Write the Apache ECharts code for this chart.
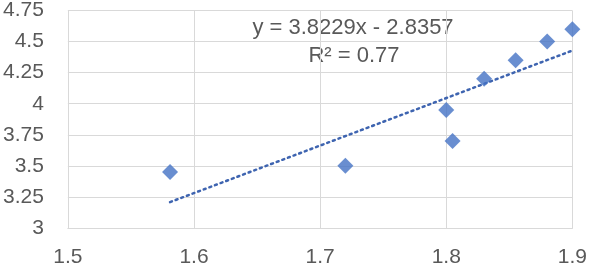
<!DOCTYPE html>
<html><head><meta charset="utf-8">
<script src="https://cdn.jsdelivr.net/npm/echarts@6/dist/echarts.min.js"></script>
<style>html,body{margin:0;padding:0;background:#fff}#c{width:590px;height:268px}</style>
</head><body><div id="c"></div>
<script>
const xValues = [1.581, 1.720, 1.800, 1.805, 1.830, 1.855, 1.880, 1.900];
const yValues = [3.45, 3.50, 3.95, 3.70, 4.20, 4.35, 4.50, 4.60];
const xTicks = [1.5, 1.6, 1.7, 1.8, 1.9];
const yTicks = [3, 3.25, 3.5, 3.75, 4, 4.25, 4.5, 4.75];
const trendSlope = 3.8229;
const trendIntercept = -2.8357;
const equationText = 'y = 3.8229x - 2.8357';
const r2Text = 'R² = 0.77';

const pts = xValues.map((x, i) => [x, yValues[i]]);
const xmin = Math.min(...xValues), xmax = Math.max(...xValues);
const trend = [[xmin, trendSlope * xmin + trendIntercept], [xmax, trendSlope * xmax + trendIntercept]];

const chart = echarts.init(document.getElementById('c'));
const font = 'Liberation Sans';
chart.setOption({
  animation: false,
  grid: { left: 67, right: 15, top: 9, bottom: 40 },
  xAxis: {
    type: 'value', min: 1.5, max: 1.9, interval: 0.1,
    axisLine: { show: true, lineStyle: { color: '#D9D9D9' } },
    axisTick: { show: false },
    splitLine: { show: true, lineStyle: { color: '#D9D9D9' } },
    axisLabel: { color: '#595959', fontSize: 21, fontFamily: font, margin: 19,
      formatter: v => xTicks.find(t => Math.abs(t - v) < 1e-9)?.toString() ?? '' }
  },
  yAxis: {
    type: 'value', min: 3, max: 4.75, interval: 0.25,
    axisLine: { show: true, lineStyle: { color: '#D9D9D9' } },
    axisTick: { show: false },
    splitLine: { show: true, lineStyle: { color: '#D9D9D9' } },
    axisLabel: { color: '#595959', fontSize: 21, fontFamily: font, margin: 24,
      formatter: v => yTicks.find(t => Math.abs(t - v) < 1e-9)?.toString() ?? '' }
  },
  series: [
    { type: 'line', data: trend, symbol: 'none', z: 2,
      lineStyle: { color: '#3E64B0', width: 2.5, type: [2, 4], cap: 'round' } },
    { type: 'scatter', data: pts, symbol: 'diamond', symbolSize: 16, z: 3,
      itemStyle: { color: '#4472C4' } }
  ],
  graphic: [
    { type: 'text', x: 353, y: 17, style: { text: equationText, fontSize: 22, fontFamily: font, fill: '#595959', align: 'center' } },
    { type: 'text', x: 354, y: 45, style: { text: r2Text, fontSize: 22, fontFamily: font, fill: '#595959', align: 'center' } }
  ]
});
</script></body></html>
